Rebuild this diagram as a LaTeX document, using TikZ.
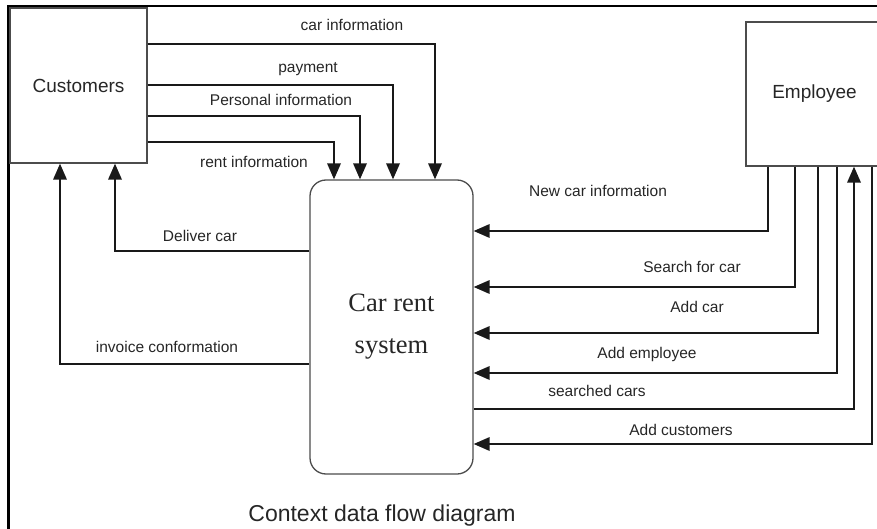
\documentclass[tikz,border=0pt]{standalone}
\usepackage{fontspec}
\setmainfont{Liberation Sans}
\newfontfamily\sysfont{Liberation Serif}
\usetikzlibrary{arrows.meta}
\begin{document}
\begin{tikzpicture}[x=1pt,y=-1pt,
  box/.style={draw=black!70, line width=1.3pt, inner sep=0pt},
  flow/.style={draw=black!90, line width=1.8pt, -{Triangle[length=16pt,width=13.5pt]}},
  lab/.style={font=\fontsize{15.5}{18}\selectfont, text=black!85, inner sep=0pt, text height=11pt, text depth=0pt},
  frame/.style={draw=black, line width=2.5pt}
]
\useasboundingbox (0,0) rectangle (877,529);
% outer frame (top and left edges)
\draw[frame] (8.5,529) -- (8.5,6) -- (877,6);

% boxes
\node[box, minimum width=137pt, minimum height=155pt, font=\fontsize{19}{22}\selectfont, text=black!85] (cust) at (78.5,85.5) {Customers};
\node[box, minimum width=137pt, minimum height=144pt, font=\fontsize{19}{22}\selectfont, text=black!85] (emp) at (814.5,94) {Employee};
\node[box, rounded corners=16pt, minimum width=163pt, minimum height=294pt, align=center, font=\sysfont\fontsize{26.5}{42}\selectfont, text=black!85] (sys) at (391.5,327) {Car rent\\system};

% helper coordinates
\coordinate (yCar) at (0,44);
\coordinate (xCar) at (435,0);
\coordinate (yPay) at (0,85);
\coordinate (xPay) at (393,0);
\coordinate (yPer) at (0,116);
\coordinate (xPer) at (360,0);
\coordinate (yRent) at (0,142);
\coordinate (xRent) at (334,0);
\coordinate (yDel) at (0,251);
\coordinate (xDel) at (115,0);
\coordinate (yInv) at (0,364);
\coordinate (xInv) at (60,0);
\coordinate (yNew) at (0,231);
\coordinate (xNew) at (768,0);
\coordinate (ySrch) at (0,287);
\coordinate (xSrch) at (795,0);
\coordinate (yAddC) at (0,333);
\coordinate (xAddC) at (818,0);
\coordinate (yAddE) at (0,373);
\coordinate (xAddE) at (837,0);
\coordinate (ySrd) at (0,409);
\coordinate (xSrd) at (854,0);
\coordinate (yAddCu) at (0,444);
\coordinate (xAddCu) at (872,0);

% customer flows
\draw[flow] (cust.east |- yCar) -| (sys.north -| xCar);
\draw[flow] (cust.east |- yPay) -| (sys.north -| xPay);
\draw[flow] (cust.east |- yPer) -| (sys.north -| xPer);
\draw[flow] (cust.east |- yRent) -| (sys.north -| xRent);
\draw[flow] (sys.west |- yDel) -| (cust.south -| xDel);
\draw[flow] (sys.west |- yInv) -| (cust.south -| xInv);

% employee flows
\draw[flow] (emp.south -| xNew) |- (sys.east |- yNew);
\draw[flow] (emp.south -| xSrch) |- (sys.east |- ySrch);
\draw[flow] (emp.south -| xAddC) |- (sys.east |- yAddC);
\draw[flow] (emp.south -| xAddE) |- (sys.east |- yAddE);
\draw[flow] (sys.east |- ySrd) -| (emp.south -| xSrd);
\draw[flow] (emp.south -| xAddCu) |- (sys.east |- yAddCu);

% labels
\node[lab] (l1) at (352,25) {car information};
\node[lab] (l2) at (308,67) {payment};
\node[lab] (l3) at (281,100) {Personal information};
\node[lab] (l4) at (254,162) {rent information};
\node[lab] (l5) at (200,236) {Deliver car};
\node[lab] (l6) at (167,347) {invoice conformation};
\node[lab] (l7) at (598,191) {New car information};
\node[lab] (l8) at (692,267) {Search for car};
\node[lab] (l9) at (697,307) {Add car};
\node[lab] (l10) at (647,353) {Add employee};
\node[lab] (l11) at (597,391) {searched cars};
\node[lab] (l12) at (681,430) {Add customers};

\node[font=\fontsize{23}{27}\selectfont, text=black!85, inner sep=0pt, text height=16.5pt, text depth=0pt] (title) at (382,513) {Context data flow diagram};
\end{tikzpicture}
\end{document}
